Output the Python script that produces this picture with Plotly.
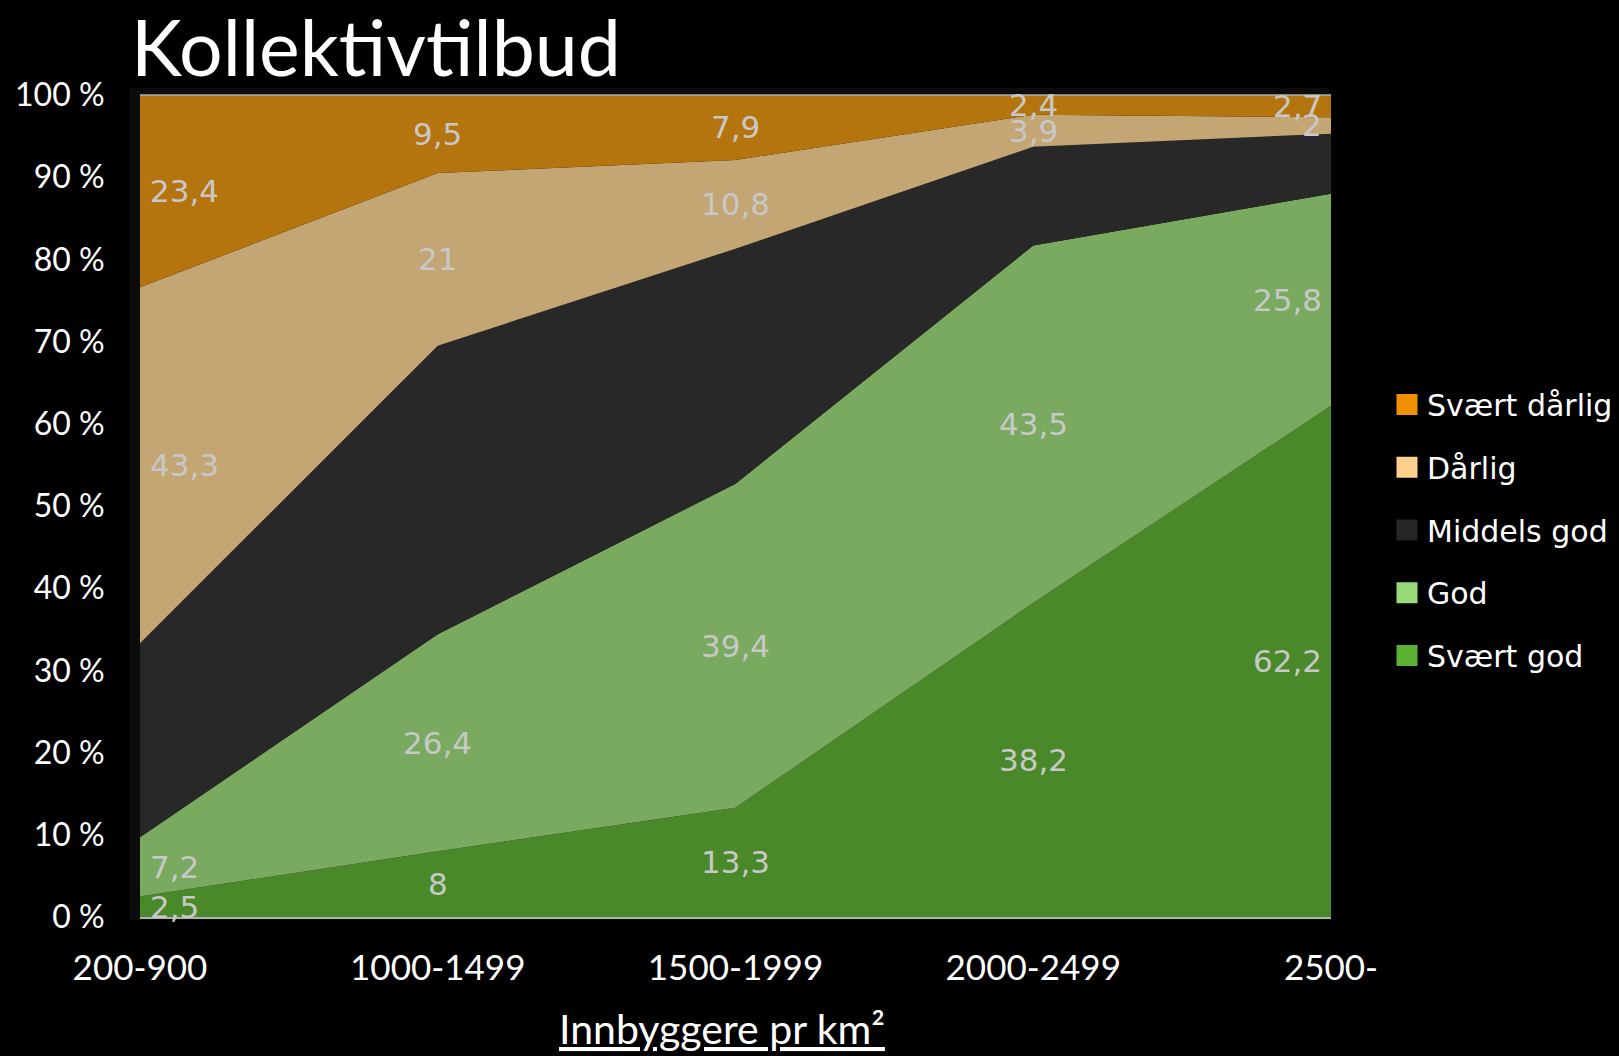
import plotly.graph_objects as go

categories = ["200-900", "1000-1499", "1500-1999", "2000-2499", "2500-"]
series_names = ["Svært god", "God", "Middels god", "Dårlig", "Svært dårlig"]
svaert_god = [2.5, 8, 13.3, 38.2, 62.2]
god = [7.2, 26.4, 39.4, 43.5, 25.8]
middels_god = [23.6, 35.1, 28.6, 12.0, 7.3]
darlig = [43.3, 21, 10.8, 3.9, 2]
svaert_darlig = [23.4, 9.5, 7.9, 2.4, 2.7]
y_ticks = [0, 10, 20, 30, 40, 50, 60, 70, 80, 90, 100]
y_tick_labels = [f"{t} %" for t in y_ticks]

values = [svaert_god, god, middels_god, darlig, svaert_darlig]
fill_colors = ["#4a892a", "#79aa5f", "#282828", "#c4a574", "#b5750e"]
legend_colors = ["#5ab030", "#98d97a", "#262626", "#fed08e", "#ee9000"]
show_labels = [True, True, False, True, True]

fig = go.Figure()

for name, vals, fc in zip(series_names, values, fill_colors):
    fig.add_trace(go.Scatter(
        x=categories, y=vals, name=name, stackgroup="one",
        mode="lines", line=dict(width=0, color=fc), fillcolor=fc,
        showlegend=False, hoverinfo="skip"))

# legend entries (top to bottom: Svært dårlig ... Svært god)
for name, lc in reversed(list(zip(series_names, legend_colors))):
    fig.add_trace(go.Scatter(
        x=[None], y=[None], name=name, mode="markers",
        marker=dict(symbol="square", size=16, color=lc, line=dict(color=lc, width=5)),
        legendgroup=name, showlegend=True))

# data labels
annotations = []
cum = [0.0] * len(categories)
for vals, show in zip(values, show_labels):
    for i, v in enumerate(vals):
        mid = cum[i] + v / 2
        if show:
            if i == 0:
                xa, xs = "left", 8
            elif i == len(categories) - 1:
                xa, xs = "right", -7
            else:
                xa, xs = "center", 0
            annotations.append(dict(
                x=categories[i], y=mid, xref="x", yref="y",
                text=f"{v:g}".replace(".", ","), showarrow=False,
                xanchor=xa, xshift=xs, yanchor="middle",
                font=dict(family="DejaVu Sans", size=31, color="#c8c8c8")))
        cum[i] += v

annotations.append(dict(
    x=0.489, y=-0.136, xref="paper", yref="paper",
    text="<u>Innbyggere pr km²</u>", showarrow=False,
    xanchor="center", yanchor="middle",
    font=dict(family="Lato", size=41, color="white")))

fig.update_layout(
    width=1619, height=1056,
    paper_bgcolor="black", plot_bgcolor="black",
    margin=dict(l=140, r=288, t=95, b=139, autoexpand=False),
    title=dict(text="Kollektivtilbud", x=131 / 1619, xanchor="left",
               xref="container", yref="container", y=1 - 49 / 1056, yanchor="middle",
               font=dict(family="Lato", size=77, color="white")),
    annotations=annotations,
    legend=dict(xref="container", x=1387 / 1619, y=0.655, xanchor="left", yanchor="top",
                font=dict(family="DejaVu Sans", size=30, color="white"),
                bgcolor="rgba(0,0,0,0)", tracegroupgap=20.7),
    shapes=[dict(type="rect", xref="paper", yref="paper",
                 x0=-10 / 1191, x1=1 - 2 / 1191, y0=-3 / 822, y1=1 + 7 / 822,
                 fillcolor="#0c0c0c", line=dict(width=0), layer="below"),
            dict(type="line", xref="paper", yref="paper", x0=0, x1=1, y0=1, y1=1,
                 line=dict(color="#b0b0b0", width=1.5), layer="above")],
    xaxis=dict(type="category", range=[0, 4], showgrid=False, zeroline=False,
               showline=True, linecolor="#b0b0b0", linewidth=1.5,
               ticks="outside", ticklen=19, tickcolor="rgba(0,0,0,0)",
               tickfont=dict(family="Lato", size=35, color="white")),
    yaxis=dict(range=[0, 100], tickvals=y_ticks, ticktext=y_tick_labels,
               showgrid=False, zeroline=False, showline=False,
               ticks="outside", ticklen=28, tickcolor="rgba(0,0,0,0)",
               tickfont=dict(family="Lato", size=32, color="white")),
)

fig.write_html("out.html", config={"displayModeBar": False},
               post_script="document.body.style.margin='0';document.body.style.background='black';")
